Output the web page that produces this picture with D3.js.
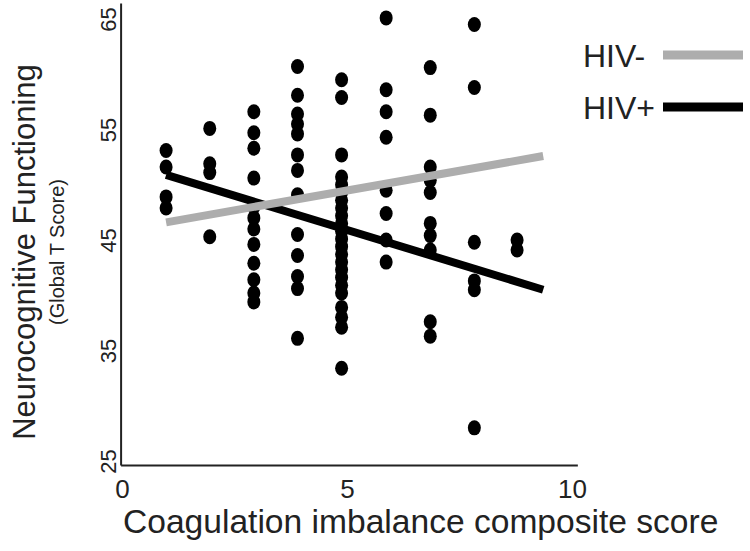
<!DOCTYPE html>
<html><head><meta charset="utf-8">
<script src="https://cdn.jsdelivr.net/npm/d3@7"></script>
<style>body{margin:0;background:#fff}svg{display:block;font-family:"Liberation Sans",Arial,sans-serif}</style>
</head><body>
<svg id="c" width="750" height="551"></svg>
<script>
// Column positions (composite score) and the Global T scores in each column
const columnX = [0.98, 1.95, 2.93, 3.90, 4.88, 5.87, 6.85, 7.83, 8.78];
const columnScores = [
  [53.1, 51.6, 48.9, 47.9],
  [55.1, 51.9, 51.1, 45.3],
  [56.6, 54.7, 53.3, 50.6, 48.0, 47.0, 46.0, 44.6, 42.9, 41.4, 40.2, 39.4],
  [60.7, 58.1, 56.4, 55.5, 54.6, 52.7, 51.3, 49.1, 45.5, 43.6, 41.7, 40.6, 36.1],
  [59.5, 57.9, 52.7, 50.7, 50.0, 49.3, 48.6, 47.9, 47.2, 46.5, 45.8, 45.1, 44.4, 43.7, 43.0, 42.3, 41.6, 40.9, 40.2, 38.9, 38.0, 37.1, 33.4],
  [65.1, 58.6, 56.6, 54.3, 49.5, 47.4, 45.0, 43.0],
  [60.6, 56.3, 51.6, 50.4, 49.3, 46.5, 45.4, 44.1, 37.6, 36.3],
  [64.5, 58.8, 44.8, 41.3, 40.5, 28.0],
  [45.0, 44.1]
];
// Regression lines: [x, y] end points
const lineNames = ["HIV+", "HIV-"];
const hivPosLine = [[0.98, 50.9], [9.36, 40.5]];
const hivNegLine = [[0.98, 46.6], [9.36, 52.6]];
const xTicks = [0, 5, 10];
const yTicks = [25, 35, 45, 55, 65];

const svg = d3.select("#c");
const x = d3.scaleLinear().domain([0, 10]).range([122, 572]);
const y = d3.scaleLinear().domain([25, 65]).range([461, 19]);

// points
const pts = [];
columnX.forEach((cx, i) => columnScores[i].forEach(v => pts.push([cx, v])));
svg.append("g").selectAll("ellipse").data(pts).join("ellipse")
  .attr("cx", d => x(d[0])).attr("cy", d => y(d[1]))
  .attr("rx", 6.5).attr("ry", 7.5).attr("fill", "#000");

// axes
const xAxis = svg.append("g").attr("transform", `translate(0,${y(24.6)})`)
  .call(d3.axisBottom(x).tickValues(xTicks).tickSize(0).tickPadding(14).tickFormat(d3.format("d")));
xAxis.select(".domain").attr("d", `M${x(-0.02)},0H${x(10.13)}`).attr("stroke", "#222").attr("stroke-width", 2);
xAxis.selectAll("text").attr("font-size", 26).attr("fill", "#222").attr("font-family", "Liberation Sans, Arial, sans-serif");

const yAxis = svg.append("g").attr("transform", `translate(${x(-0.02)},0)`)
  .call(d3.axisLeft(y).tickValues(yTicks).tickSize(0).tickFormat(d3.format("d")));
yAxis.select(".domain").attr("d", `M0,${y(66.4)}V${y(24.6)}`).attr("stroke", "#222").attr("stroke-width", 2);
yAxis.selectAll("text").attr("font-size", 22).attr("fill", "#222").attr("font-family", "Liberation Sans, Arial, sans-serif")
  .attr("x", 0).attr("dy", 0).attr("text-anchor", "middle")
  .attr("transform", "translate(-5,0) rotate(-90)");

// regression lines
const line = d3.line().x(d => x(d[0])).y(d => y(d[1]));
svg.append("path").attr("d", line(hivPosLine)).attr("stroke", "#000").attr("stroke-width", 8).attr("fill", "none");
svg.append("path").attr("d", line(hivNegLine)).attr("stroke", "#adadad").attr("stroke-width", 8).attr("fill", "none");

// legend
const legend = [{name: "HIV-", color: "#adadad", y: 55}, {name: "HIV+", color: "#000", y: 107}];
legend.forEach(l => {
  svg.append("text").attr("x", 583).attr("y", l.y + 12).attr("font-size", 32).attr("fill", "#222").text(l.name);
  svg.append("line").attr("x1", 663).attr("x2", 743).attr("y1", l.y).attr("y2", l.y)
    .attr("stroke", l.color).attr("stroke-width", 9);
});

// titles
svg.append("text").attr("x", 123).attr("y", 533).attr("font-size", 33.6).attr("fill", "#222")
  .text("Coagulation imbalance composite score");
svg.append("text").attr("transform", "translate(35,252) rotate(-90)").attr("text-anchor", "middle")
  .attr("font-size", 31).attr("fill", "#222").text("Neurocognitive Functioning");
svg.append("text").attr("transform", "translate(64,252) rotate(-90)").attr("text-anchor", "middle")
  .attr("font-size", 20).attr("fill", "#222").text("(Global T Score)");
</script>
</body></html>
